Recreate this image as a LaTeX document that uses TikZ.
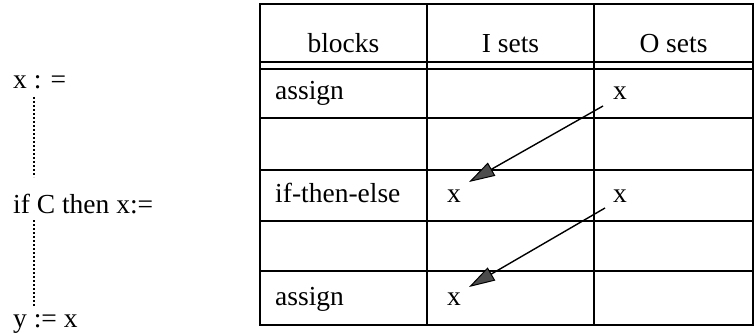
\documentclass[tikz,border=0pt]{standalone}
\usepackage{fontspec}
\setmainfont{Liberation Serif}
\usetikzlibrary{arrows.meta}
\begin{document}
\begin{tikzpicture}[x=1pt,y=-1pt,
  lbl/.style={anchor=base west,inner sep=0pt,font=\fontsize{27.5}{33}\selectfont},
  head/.style={anchor=base,inner sep=0pt,font=\fontsize{27.5}{33}\selectfont},
  rule/.style={line width=1.5pt},
  flow/.style={line width=1.4pt,-{Triangle[length=26pt,width=15pt,fill=black!70,line width=1pt]}},
  dots/.style={dash pattern=on 2pt off 2pt,line width=1.6pt}]
\useasboundingbox (0,0) rectangle (755,334);

% program fragment
\node[lbl] (s1) at (13,89) {x : =};
\node[lbl] (s2) at (13,213) {if C then x:=};
\node[lbl] (s3) at (13,327) {y := x};
\coordinate (d1a) at (34,97);
\coordinate (d1b) at (34,177);
\coordinate (d2a) at (34,220);
\coordinate (d2b) at (34,307);
\draw[dots] (d1a) -- (d1b);
\draw[dots] (d2a) -- (d2b);

% table frame
\draw[rule] (260,4) rectangle (753,325);
\draw[rule] (427,4) -- (427,325);
\draw[rule] (594,4) -- (594,325);
\foreach \y in {62,69,118,170,221,271}
  \draw[rule] (260,\y) -- (753,\y);

% header
\node[head] (hb) at (343.5,53) {blocks};
\node[head] (hi) at (510.5,53) {I sets};
\node[head] (ho) at (673.5,53) {O sets};

% rows
\node[lbl] (b1) at (275,100) {assign};
\node[lbl] (o1) at (613,100) {x};
\node[lbl] (b3) at (275,202) {if-then-else};
\node[lbl] (i3) at (447,202) {x};
\node[lbl] (o3) at (613,202) {x};
\node[lbl] (b5) at (275,305) {assign};
\node[lbl] (i5) at (447,305) {x};

% data flow
\coordinate (f1s) at (603,106);
\coordinate (f1e) at (469,182);
\coordinate (f2s) at (605,208);
\coordinate (f2e) at (469,287);
\draw[flow] (f1s) -- (f1e);
\draw[flow] (f2s) -- (f2e);
\end{tikzpicture}
\end{document}
